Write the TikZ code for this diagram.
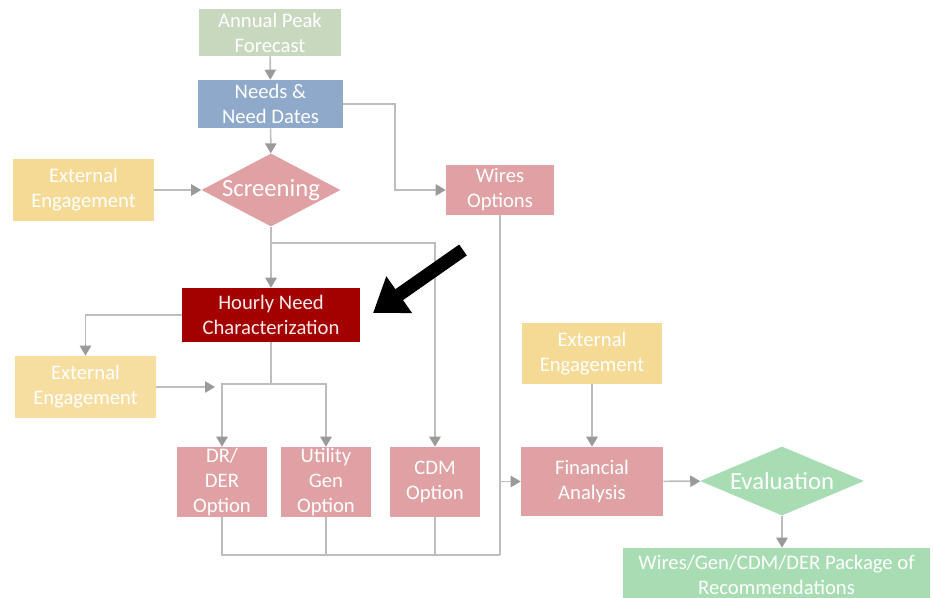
\documentclass[tikz,border=0pt]{standalone}
\usepackage{fontspec}
\setmainfont{Carlito}
\usetikzlibrary{shapes.geometric,arrows.meta,calc}
\definecolor{peakgreen}{HTML}{C8D8BF}
\definecolor{needblue}{HTML}{8FA9CB}
\definecolor{engyellow}{HTML}{F5DA96}
\definecolor{optpink}{HTML}{E0A1A4}
\definecolor{hourred}{HTML}{A30000}
\definecolor{evalgreen}{HTML}{A8DDB3}
\definecolor{wire}{HTML}{BDBDBD}
\definecolor{tipgrey}{HTML}{9A9A9A}
\tikzset{
  wd/.style={minimum width=#1*0.75pt},
  ht/.style={minimum height=#1*0.75pt},
  box/.style={rectangle, inner sep=0pt, text=white, align=center,
    font=\fontsize{15.5}{18.75}\selectfont},
  dia/.style={diamond, inner sep=0pt, text=white, align=center,
    font=\fontsize{18.5}{20}\selectfont},
  link/.style={draw=wire, line width=1.2pt},
  arr/.style={link, -{Triangle[length=7.5pt,width=8.5pt,fill=tipgrey,color=tipgrey]}},
}
\begin{document}
\begin{tikzpicture}[x=0.75pt, y=-0.75pt]
\useasboundingbox (0,0) rectangle (934,598);
\clip (0,0) rectangle (934,598);

% process boxes
\node[box, fill=peakgreen, wd=142, ht=47] (apf) at (270,32.5) {Annual Peak\\Forecast};
\node[box, fill=needblue, wd=145, ht=48] (needs) at (270.5,104) {Needs \&\\Need Dates};
\node[box, fill=engyellow, wd=141, ht=62] (ext1) at (83.5,190) {External\\Engagement};
\node[dia, aspect=1.9, fill=optpink, wd=139, ht=73] (scr) at (271,190) {Screening};
\node[box, fill=optpink, wd=108, ht=50] (wires) at (500,190) {Wires\\Options};
\node[box, fill=hourred, text=red!8, wd=178, ht=54] (hour) at (271,315) {Hourly Need\\Characterization};
\node[box, fill=engyellow!90!white, wd=141, ht=62] (ext2) at (85.5,387) {External\\Engagement};
\node[box, fill=optpink, wd=90, ht=70] (dr) at (222,482) {DR/\\DER\\Option};
\node[box, fill=optpink, wd=90, ht=70] (util) at (326,482) {Utility\\Gen\\Option};
\node[box, fill=optpink, wd=90, ht=70] (cdm) at (435,482) {CDM\\Option};
\node[box, fill=engyellow, wd=140, ht=61] (ext3) at (592,353.5) {External\\Engagement};
\node[box, fill=optpink, wd=142, ht=69] (fin) at (592,481.5) {Financial\\Analysis};
\node[dia, aspect=2.38, fill=evalgreen, wd=164, ht=69] (eval) at (782,481) {Evaluation};
\node[box, fill=evalgreen, wd=307, ht=54] (pkg) at (776.5,575) {Wires/Gen/CDM/DER Package of\\Recommendations};

% junction points
\coordinate (j1) at (271,243);
\coordinate (j2) at (271,384);
\coordinate (bus) at (500,555);
\coordinate (open) at (215,387);

% connectors
\draw[arr] (apf) -- (needs);
\draw[arr] (needs) -- (scr);
\draw[arr] (needs.east) -- ++(52,0) |- (wires.west);
\draw[arr] (ext1) -- (scr);
\draw[arr] (scr) -- (hour);
\draw[arr] (j1) -| (cdm.north);
\draw[arr] (hour.west) -| (ext2.north);
\draw[link] (hour.south) -- (j2);
\draw[arr] (j2) -| (dr.north);
\draw[arr] (j2) -| (util.north);
\draw[arr] (ext2.east |- open) -- (open);
\draw[link] (dr.south) |- (bus);
\draw[link] (util.south) -- (util.south |- bus);
\draw[link] (cdm.south) -- (cdm.south |- bus);
\draw[link] (wires.south) -- (bus);
\draw[arr] (wires.south |- fin.west) -- (fin.west);
\draw[arr] (ext3) -- (fin);
\draw[arr] (fin) -- (eval);
\draw[arr] (eval.south) -- (eval.south |- pkg.north);

% pointer to the highlighted step
\coordinate (ptail) at (463,250);
\coordinate (phead) at (373,313);
\draw[line width=10pt, black, -{Triangle[length=24pt,width=32pt]}] (ptail) -- (phead);
\end{tikzpicture}
\end{document}
